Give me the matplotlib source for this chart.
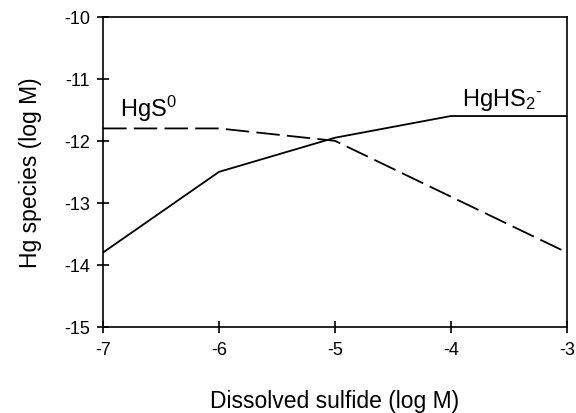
import numpy as np
import matplotlib.pyplot as plt

plt.rcParams['font.family'] = ['Liberation Sans', 'DejaVu Sans']
plt.rcParams['axes.unicode_minus'] = False
plt.rcParams['mathtext.fontset'] = 'custom'
plt.rcParams['mathtext.rm'] = 'Liberation Sans'
plt.rcParams['mathtext.it'] = 'Liberation Sans'

sulfide = [-7, -6, -5, -4, -3]
hghs2 = [-13.8, -12.5, -11.95, -11.6, -11.6]
hgs0 = [-11.8, -11.8, -12.0, -12.9, -13.8]

fig = plt.figure(figsize=(5.76, 4.14), dpi=100)
ax = fig.add_axes([0.179, 0.208, 0.805, 0.749])

ax.plot(sulfide, hghs2, color='black', lw=1.3)
ax.plot(sulfide, hgs0, color='black', lw=1.3, dashes=(13, 4))

ax.set_xlim(-7, -3)
ax.set_ylim(-15, -10)
ax.set_xticks(np.arange(-7, -2, 1))
ax.set_yticks(np.arange(-15, -9, 1))
for s in ax.spines.values():
    s.set_linewidth(1.2)
ax.tick_params(direction='inout', length=9, width=1.2, labelsize=13)
ax.tick_params(axis='x', pad=6)
ax.tick_params(axis='y', pad=5)

ax.set_xlabel('Dissolved sulfide (log M)', fontsize=16.5, labelpad=22)
ax.set_ylabel('Hg species (log M)', fontsize=16.5, labelpad=16)

ax.text(-6.85, -11.6, 'HgS$^{0}$', fontsize=17)
ax.text(-3.9, -11.42, 'HgHS$_{2}$$^{\\text{-}}$', fontsize=17)

fig.savefig('out.png', dpi=100)
